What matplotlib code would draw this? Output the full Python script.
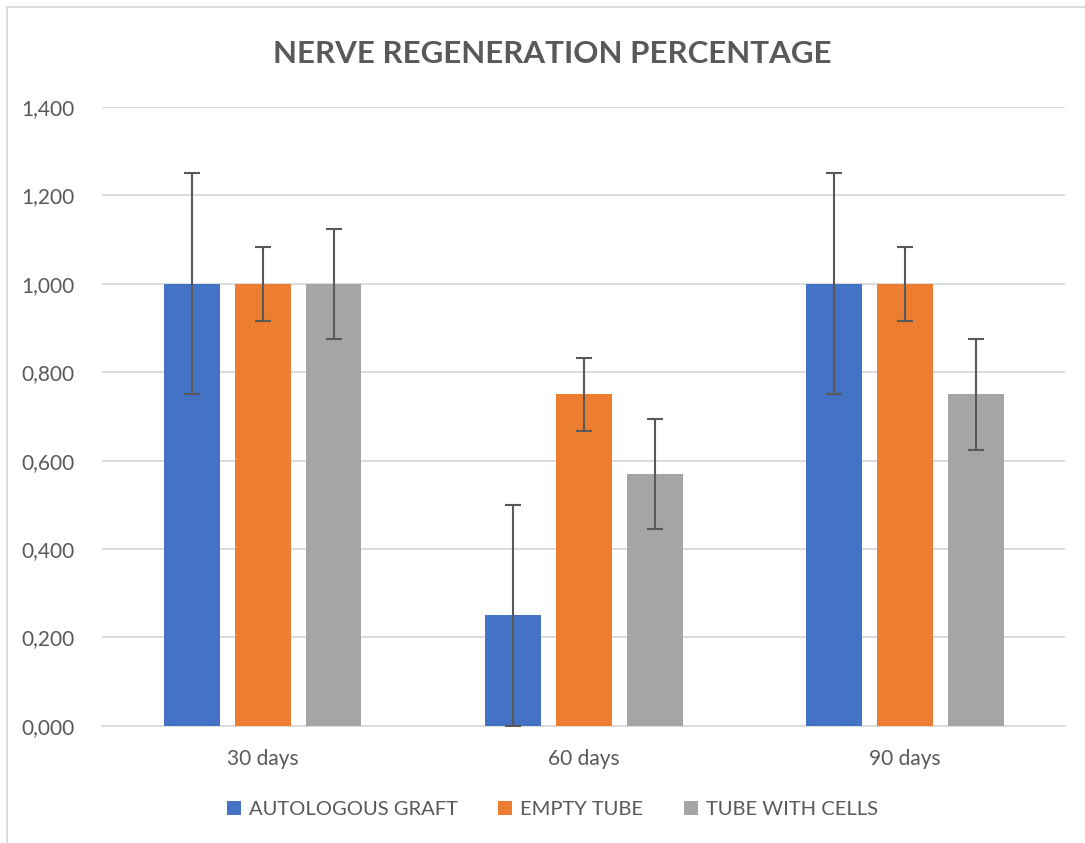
import numpy as np
import matplotlib
matplotlib.use("Agg")
import matplotlib.pyplot as plt
from matplotlib.patches import Rectangle

plt.rcParams['font.family'] = ['Lato', 'DejaVu Sans']

categories = ['30 days', '60 days', '90 days']
series = ['AUTOLOGOUS GRAFT', 'EMPTY TUBE', 'TUBE WITH CELLS']
colors = ['#4472C4', '#ED7D31', '#A5A5A5']
values = [
    [1.0, 0.25, 1.0],
    [1.0, 0.75, 1.0],
    [1.0, 0.57, 0.75],
]
errors = [
    [0.25, 0.25, 0.25],
    [0.083, 0.083, 0.083],
    [0.125, 0.125, 0.125],
]

fig = plt.figure(figsize=(10.85, 8.43), dpi=100)
ax = fig.add_axes([0.094, 0.139, 0.888, 0.734])

x = np.arange(len(categories))
width = 0.174
step = 0.221
for i, name in enumerate(series):
    ax.bar(x + (i - 1) * step, values[i], width, color=colors[i], label=name,
           yerr=errors[i], error_kw=dict(ecolor='#595959', elinewidth=1.5,
                                         capsize=6, capthick=1.5), zorder=3)

ax.set_xlim(-0.5, 2.5)
ax.set_ylim(0, 1.4)
ax.set_yticks(np.arange(0, 1.41, 0.2))
ax.set_yticklabels(['{:.3f}'.format(v).replace('.', ',') for v in np.arange(0, 1.41, 0.2)])
ax.set_xticks(x)
ax.set_xticklabels(categories)
ax.tick_params(axis='both', length=0, labelsize=15, colors='#595959')
ax.tick_params(axis='x', pad=17)
ax.tick_params(axis='y', pad=20)
ax.grid(axis='y', color='#D9D9D9', linewidth=1.3, zorder=0)
for s in ['top', 'right', 'left']:
    ax.spines[s].set_visible(False)
ax.spines['bottom'].set_color('#D9D9D9')
ax.spines['bottom'].set_linewidth(1.3)

fig.text(0.509, 0.936, 'NERVE REGENERATION PERCENTAGE', ha='center', va='center',
         fontsize=22.5, fontweight='bold', color='#595959')

fig.legend(loc='center', bbox_to_anchor=(0.509, 0.040), ncol=3, frameon=False,
           fontsize=14.5, handlelength=0.7, handleheight=0.7, columnspacing=2.0,
           handletextpad=0.4, labelcolor='#595959')

fig.patches.append(Rectangle((7 / 1085, -0.1), 1.2, 1 - 7 / 843 + 0.1,
                             transform=fig.transFigure, fill=False,
                             edgecolor='#D9D9D9', linewidth=1.3))

fig.savefig('out.png', dpi=100)
